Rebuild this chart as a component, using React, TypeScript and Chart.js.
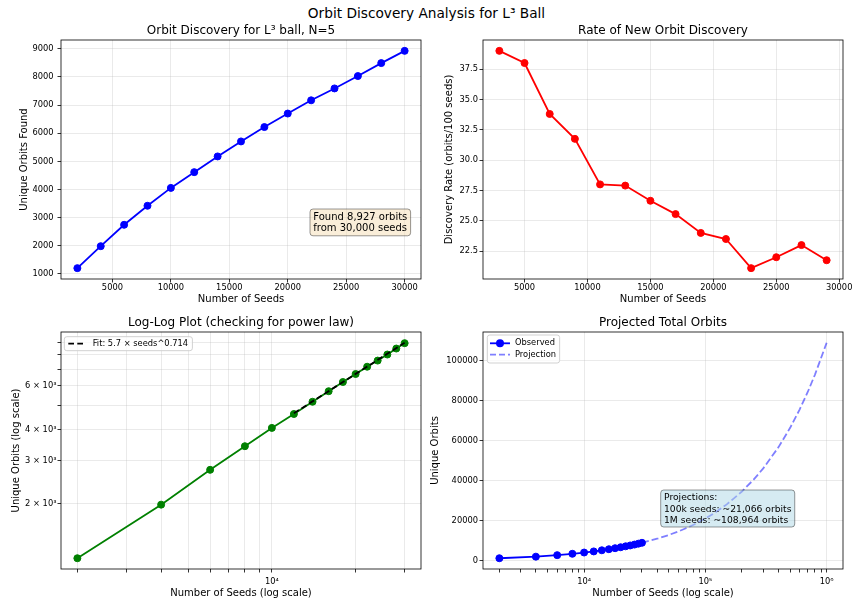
import React, { useEffect, useRef } from 'react';
import { Chart, registerables } from 'chart.js';

Chart.register(...registerables);

// ---------- data ----------
const seeds = [2000, 4000, 6000, 8000, 10000, 12000, 14000, 16000, 18000, 20000, 22000, 24000, 26000, 28000, 30000];
const uniqueOrbits = [1207, 1987, 2747, 3423, 4058, 4618, 5176, 5709, 6220, 6700, 7170, 7592, 8032, 8492, 8927];

const rateSeeds = [3000, 5000, 7000, 9000, 11000, 13000, 15000, 17000, 19000, 21000, 23000, 25000, 27000, 29000];
const discoveryRate = [39.0, 38.0, 33.8, 31.75, 28.0, 27.9, 26.65, 25.55, 24.0, 23.5, 21.1, 22.0, 23.0, 21.75];

const fitSeeds = [12000, 30000];
const fitOrbits = [4650, 8960];

const projectionSeeds = [30000, 40000, 50000, 60000, 70000, 80000, 100000, 120000, 150000, 200000, 250000, 300000, 400000, 500000, 600000, 700000, 800000, 1000000];
const projectionOrbits = [8920, 10955, 12846, 14630, 16331, 17965, 21066, 23995, 28136, 34549, 40514, 46145, 56659, 66443, 75670, 84475, 92925, 108964];

// ---------- ticks ----------
const seedTicksLinear = [5000, 10000, 15000, 20000, 25000, 30000];
const orbitTicksLinear = [1000, 2000, 3000, 4000, 5000, 6000, 7000, 8000, 9000];
const rateTicks = [22.5, 25.0, 27.5, 30.0, 32.5, 35.0, 37.5];
const logSeedTicks = [2000, 3000, 4000, 5000, 6000, 7000, 8000, 9000, 10000, 20000, 30000];
const logSeedLabels: Record<number, string> = { 10000: '10⁴' };
const logOrbitTicks = [2000, 3000, 4000, 5000, 6000, 7000, 8000, 9000];
const logOrbitLabels: Record<number, string> = { 2000: '2 × 10³', 3000: '3 × 10³', 4000: '4 × 10³', 6000: '6 × 10³' };
const projSeedTicks = [2000, 3000, 4000, 5000, 6000, 7000, 8000, 9000, 10000, 20000, 30000, 40000, 50000, 60000, 70000, 80000, 90000, 100000, 200000, 300000, 400000, 500000, 600000, 700000, 800000, 900000, 1000000];
const projSeedLabels: Record<number, string> = { 10000: '10⁴', 100000: '10⁵', 1000000: '10⁶' };
const projOrbitTicks = [0, 20000, 40000, 60000, 80000, 100000];

const FONT = "'DejaVu Sans', 'Liberation Sans', sans-serif";
const GRID = 'rgba(176,176,176,0.27)';
const CLEAR = 'rgba(0,0,0,0)';

function linRange(vals: number[]): [number, number] {
  const lo = Math.min(...vals), hi = Math.max(...vals);
  const m = (hi - lo) * 0.05;
  return [lo - m, hi + m];
}
function logRange(vals: number[]): [number, number] {
  const lo = Math.log10(Math.min(...vals)), hi = Math.log10(Math.max(...vals));
  const m = (hi - lo) * 0.05;
  return [Math.pow(10, lo - m), Math.pow(10, hi + m)];
}
const pts = (xs: number[], ys: number[]) => xs.map((x, i) => ({ x, y: ys[i] }));

function makeScale(o: any) {
  const [min, max] = o.range;
  return {
    type: o.type,
    position: o.axis === 'x' ? 'bottom' : 'left',
    min, max,
    bounds: 'data',
    afterBuildTicks: (s: any) => { s.ticks = o.ticks.map((v: number) => ({ value: v })); },
    afterFit: (s: any) => { if (o.axis === 'x') s.height = o.size; else s.width = o.size; },
    ticks: {
      autoSkip: false, maxRotation: 0, minRotation: 0, padding: o.tickPad,
      color: '#000', font: { family: FONT, size: 8.3 },
      callback: (v: any) => o.label(Number(v)),
    },
    grid: {
      color: (c: any) => (o.gridOn ? o.gridOn(c.tick ? c.tick.value : 0) : true) ? GRID : CLEAR,
      lineWidth: 1, tickColor: '#000', tickLength: 3.5, tickWidth: 0.8, drawTicks: true,
    },
    border: { display: false },
    title: { display: true, text: o.title, color: '#000', font: { family: FONT, size: 10 }, padding: o.titlePad },
  };
}

function makeExtras(cfg: any) {
  return {
    id: 'extras',
    afterDatasetsDraw(chart: any) {
      const { ctx, chartArea: a } = chart;
      ctx.save();
      ctx.strokeStyle = '#000';
      ctx.lineWidth = 0.8;
      ctx.strokeRect(a.left, a.top, a.right - a.left, a.bottom - a.top);
      ctx.restore();
    },
    afterDraw(chart: any) {
      const { ctx, chartArea: a } = chart;
      ctx.save();
      for (const b of cfg.boxes || []) {
        ctx.font = `${b.size}px ${FONT}`;
        const w = Math.max(...b.lines.map((l: string) => ctx.measureText(l).width)) + 2 * b.padX;
        const h = b.firstBaseline + (b.lines.length - 1) * b.lh + b.bottomPad;
        const x = a.left + b.dx, y = a.top + b.dy;
        ctx.beginPath();
        ctx.roundRect(x, y, w, h, 3);
        ctx.fillStyle = b.fill; ctx.fill();
        ctx.strokeStyle = b.stroke; ctx.lineWidth = 0.9; ctx.stroke();
        ctx.fillStyle = '#000'; ctx.textBaseline = 'alphabetic'; ctx.textAlign = 'left';
        b.lines.forEach((l: string, i: number) => ctx.fillText(l, x + b.padX, y + b.firstBaseline + i * b.lh));
      }
      const L = cfg.legend;
      if (L) {
        ctx.font = `${L.size}px ${FONT}`;
        const tw = Math.max(...L.entries.map((e: any) => ctx.measureText(e.text).width));
        const x = a.left + L.dx, y = a.top + L.dy;
        const w = L.textX + tw + L.padR;
        const h = 2 * L.firstRow + (L.entries.length - 1) * L.rowH;
        ctx.beginPath();
        ctx.roundRect(x, y, w, h, 2.5);
        ctx.fillStyle = 'rgba(255,255,255,0.8)'; ctx.fill();
        ctx.strokeStyle = '#cccccc'; ctx.lineWidth = 0.9; ctx.stroke();
        L.entries.forEach((e: any, i: number) => {
          const cy = y + L.firstRow + i * L.rowH;
          ctx.beginPath();
          ctx.setLineDash(e.dash || []);
          ctx.strokeStyle = e.color; ctx.lineWidth = e.width;
          ctx.moveTo(x + L.h0, cy); ctx.lineTo(x + L.h1, cy); ctx.stroke();
          ctx.setLineDash([]);
          if (e.marker) {
            ctx.beginPath();
            ctx.arc(x + (L.h0 + L.h1) / 2, cy, e.marker, 0, Math.PI * 2);
            ctx.fillStyle = e.color; ctx.fill();
          }
          ctx.fillStyle = '#000'; ctx.textBaseline = 'middle'; ctx.textAlign = 'left';
          ctx.fillText(e.text, x + L.textX, cy);
        });
      }
      ctx.restore();
    },
  };
}

function baseOptions(o: any) {
  return {
    responsive: false,
    animation: false,
    devicePixelRatio: 1,
    events: [],
    layout: { padding: { left: 0, right: o.padRight, top: 0, bottom: 0 } },
    plugins: {
      legend: { display: false },
      tooltip: { enabled: false },
      title: {
        display: true, text: o.title, fullSize: false, color: '#000',
        font: { family: FONT, size: 12, weight: 'normal' }, padding: o.titlePad,
      },
    },
    scales: { x: o.x, y: o.y },
  };
}

const lineDs = (data: any, color: string, extra: any = {}) => ({
  data, borderColor: color, backgroundColor: color, borderWidth: 1.8,
  pointRadius: 3.5, pointBorderWidth: 1, pointBackgroundColor: color, pointBorderColor: color,
  tension: 0, fill: false, ...extra,
});

function config1() {
  return {
    type: 'line',
    data: { datasets: [lineDs(pts(seeds, uniqueOrbits), '#0000ff')] },
    options: baseOptions({
      padRight: 5, title: 'Orbit Discovery for L³ ball, N=5', titlePad: { top: 6, bottom: 1.6 },
      x: makeScale({ axis: 'x', type: 'linear', range: linRange(seeds), ticks: seedTicksLinear, label: (v: number) => String(v), size: 29, tickPad: 0, title: 'Number of Seeds', titlePad: { top: 0, bottom: 2.4 } }),
      y: makeScale({ axis: 'y', type: 'linear', range: linRange(uniqueOrbits), ticks: orbitTicksLinear, label: (v: number) => String(v), size: 61, tickPad: 4, title: 'Unique Orbits Found', titlePad: { top: 18.5, bottom: 0 } }),
    }),
    plugins: [makeExtras({
      boxes: [{ lines: ['Found 8,927 orbits', 'from 30,000 seeds'], size: 10, dx: 249, dy: 169, padX: 3.3, firstBaseline: 11, lh: 11, bottomPad: 4.8, fill: 'rgba(245,222,179,0.5)', stroke: 'rgba(0,0,0,0.45)' }],
    })],
  };
}

function config2() {
  return {
    type: 'line',
    data: { datasets: [lineDs(pts(rateSeeds, discoveryRate), '#ff0000')] },
    options: baseOptions({
      padRight: 10, title: 'Rate of New Orbit Discovery', titlePad: { top: 6, bottom: 1.6 },
      x: makeScale({ axis: 'x', type: 'linear', range: linRange(rateSeeds), ticks: seedTicksLinear, label: (v: number) => String(v), size: 29, tickPad: 0, title: 'Number of Seeds', titlePad: { top: 0, bottom: 2.4 } }),
      y: makeScale({ axis: 'y', type: 'linear', range: linRange(discoveryRate), ticks: rateTicks, label: (v: number) => v.toFixed(1), size: 57, tickPad: 1.5, title: 'Discovery Rate (orbits/100 seeds)', titlePad: { top: 17.3, bottom: 0 } }),
    }),
    plugins: [makeExtras({})],
  };
}

function config3() {
  return {
    type: 'line',
    data: {
      datasets: [
        lineDs(pts(fitSeeds, fitOrbits), '#000000', { borderDash: [6, 3], pointRadius: 0, pointBorderWidth: 0 }),
        lineDs(pts(seeds, uniqueOrbits), '#008000'),
      ],
    },
    options: baseOptions({
      padRight: 5, title: 'Log-Log Plot (checking for power law)', titlePad: { top: 7.6, bottom: 2 },
      x: makeScale({ axis: 'x', type: 'logarithmic', range: logRange(seeds), ticks: logSeedTicks, label: (v: number) => logSeedLabels[v] || '', size: 34, tickPad: 4.5, title: 'Number of Seeds (log scale)', titlePad: { top: 0, bottom: 3.2 } }),
      y: makeScale({ axis: 'y', type: 'logarithmic', range: logRange(uniqueOrbits.concat(fitOrbits)), ticks: logOrbitTicks, label: (v: number) => logOrbitLabels[v] || '', size: 61, tickPad: 1, title: 'Unique Orbits (log scale)', titlePad: { top: 10.2, bottom: 0 } }),
    }),
    plugins: [makeExtras({
      legend: { size: 8.3, dx: 3.3, dy: 4.7, firstRow: 7, rowH: 11.4, h0: 4, h1: 19, textX: 28.4, padR: 4.3,
        entries: [{ text: 'Fit: 5.7 × seeds^0.714', color: '#000000', dash: [5.7, 3.3], width: 1.8 }] },
    })],
  };
}

function config4() {
  return {
    type: 'line',
    data: {
      datasets: [
        lineDs(pts(seeds, uniqueOrbits), '#0000ff'),
        lineDs(pts(projectionSeeds, projectionOrbits), 'rgba(0,0,255,0.5)', { borderDash: [7, 3], pointRadius: 0, pointBorderWidth: 0 }),
      ],
    },
    options: baseOptions({
      padRight: 10, title: 'Projected Total Orbits', titlePad: { top: 7.6, bottom: 2 },
      x: makeScale({ axis: 'x', type: 'logarithmic', range: logRange(seeds.concat(projectionSeeds)), ticks: projSeedTicks, label: (v: number) => projSeedLabels[v] || '', gridOn: (v: number) => !!projSeedLabels[v], size: 34, tickPad: 4.5, title: 'Number of Seeds (log scale)', titlePad: { top: 0, bottom: 3.2 } }),
      y: makeScale({ axis: 'y', type: 'linear', range: linRange(uniqueOrbits.concat(projectionOrbits)), ticks: projOrbitTicks, label: (v: number) => String(v), size: 57, tickPad: 1.5, title: 'Unique Orbits', titlePad: { top: 3.8, bottom: 0 } }),
    }),
    plugins: [makeExtras({
      boxes: [{ lines: ['Projections:', '100k seeds: ~21,066 orbits', '1M seeds: ~108,964 orbits'], size: 9.2, dx: 177.7, dy: 158, padX: 3.3, firstBaseline: 10, lh: 11.5, bottomPad: 4, fill: 'rgba(173,216,230,0.5)', stroke: 'rgba(0,0,0,0.45)' }],
      legend: { size: 8.3, dx: 4.3, dy: 3, firstRow: 8.3, rowH: 11.4, h0: 2.7, h1: 22.7, textX: 27.7, padR: 3.6,
        entries: [
          { text: 'Observed', color: '#0000ff', width: 1.8, marker: 4 },
          { text: 'Projection', color: 'rgba(0,0,255,0.5)', dash: [6, 3], width: 1.8 },
        ] },
    })],
  };
}

function Panel({ left, top, width, height, make }: any) {
  const ref = useRef<HTMLCanvasElement>(null);
  useEffect(() => {
    const chart = new Chart(ref.current as HTMLCanvasElement, make() as any);
    return () => chart.destroy();
  }, []);
  return (
    <canvas
      ref={ref}
      width={width}
      height={height}
      style={{ position: 'absolute', left, top, width, height, display: 'block' }}
    />
  );
}

export default function App() {
  return (
    <div style={{ position: 'absolute', left: 0, top: 0, width: 853, height: 603, background: '#fff', overflow: 'hidden' }}>
      <div
        style={{
          position: 'absolute', left: 0, top: 5, width: 853, textAlign: 'center',
          fontFamily: FONT, fontSize: 13.7, lineHeight: '16px', color: '#000',
        }}
      >
        Orbit Discovery Analysis for L³ Ball
      </div>
      <Panel left={0} top={18} width={426} height={290} make={config1} />
      <Panel left={426} top={18} width={427} height={290} make={config2} />
      <Panel left={0} top={308} width={426} height={295} make={config3} />
      <Panel left={426} top={308} width={427} height={295} make={config4} />
    </div>
  );
}
